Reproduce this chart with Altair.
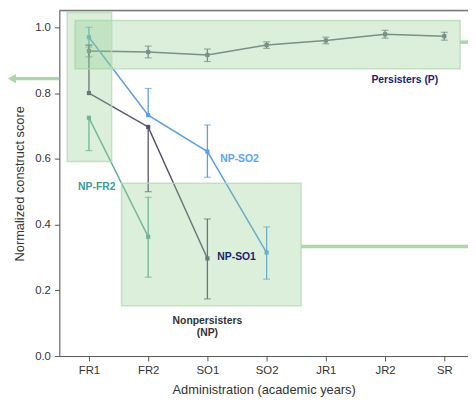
import json
import altair as alt
import pandas as pd

# ---- data ----
admin = ["FR1", "FR2", "SO1", "SO2", "JR1", "JR2", "SR"]

p_mean = [0.928, 0.925, 0.916, 0.946, 0.960, 0.979, 0.973]
p_lo = [0.910, 0.907, 0.896, 0.936, 0.950, 0.967, 0.961]
p_hi = [0.946, 0.943, 0.934, 0.956, 0.970, 0.991, 0.985]

so2_mean = [0.970, 0.733, 0.622, 0.315]
so2_lo = [0.940, 0.733, 0.544, 0.234]
so2_hi = [1.000, 0.814, 0.703, 0.393]

so1_mean = [0.800, 0.697, 0.297]
so1_lo = [0.800, 0.500, 0.174]
so1_hi = [0.946, 0.697, 0.417]

fr2_mean = [0.725, 0.363]
fr2_lo = [0.625, 0.240]
fr2_hi = [0.725, 0.483]

series_names = ["Persisters", "NP-SO2", "NP-SO1", "NP-FR2"]
line_colors = ["#6f7486", "#5b9fe2", "#55506f", "#60a898"]
point_colors = ["#4a5275", "#3f86d6", "#1f1f4a", "#3a9a86"]

# annotation boxes (category index units / score units)
box_x0 = [-0.233, -0.367, 0.55]
box_x1 = [6.267, 0.383, 3.583]
box_y0 = [0.874, 0.592, 0.153]
box_y1 = [1.021, 1.045, 0.526]

# connector lines
arrow_x0 = [-0.5, 6.267, 3.583]
arrow_x1 = [-1.30, 6.4, 6.4]
arrow_y = [0.844, 0.955, 0.333]

# text labels
lab_text = ["Persisters (P)", "NP-SO2", "NP-SO1", "NP-FR2", "Nonpersisters", "(NP)"]
lab_x = [5.333, 2.217, 2.167, 0.133, 2.0, 2.0]
lab_y = [0.841, 0.598, 0.300, 0.514, 0.108, 0.069]
lab_color = ["#1c2070", "#5ba4f0", "#1c1c6c", "#3a9c9c", "#333333", "#333333"]
lab_align = ["center", "left", "left", "center", "center", "center"]

rows = []
for name, m, lo, hi in [("Persisters", p_mean, p_lo, p_hi),
                        ("NP-SO2", so2_mean, so2_lo, so2_hi),
                        ("NP-SO1", so1_mean, so1_lo, so1_hi),
                        ("NP-FR2", fr2_mean, fr2_lo, fr2_hi)]:
    for i, (a, b, c) in enumerate(zip(m, lo, hi)):
        rows.append(dict(series=name, idx=i, score=a, lo=b, hi=c))
df = pd.DataFrame(rows)

boxes = pd.DataFrame(dict(x0=box_x0, x1=box_x1, y0=box_y0, y1=box_y1))
arrows = pd.DataFrame(dict(x0=arrow_x0, x1=arrow_x1, y=arrow_y))
heads = pd.DataFrame(dict(x=[arrow_x1[0]], y=[arrow_y[0]]))
labels = pd.DataFrame(dict(t=lab_text, x=lab_x, y=lab_y, c=lab_color, a=lab_align))
topline = pd.DataFrame(dict(x0=[-0.5], x1=[6.4], y=[1.051]))

XT = "Administration (academic years)"
YT = "Normalized construct score"
xs = alt.Scale(domain=[-0.5, 6.4], nice=False, zero=False)
ys = alt.Scale(domain=[0, 1.051], nice=False, zero=False)
label_expr = json.dumps(admin) + "[datum.value]"
xaxis = alt.Axis(values=list(range(len(admin))), labelExpr=label_expr, grid=False,
                 title=XT, domainColor="#555", tickColor="#555", tickSize=5,
                 labelFontSize=11.5, labelColor="#333", labelPadding=4,
                 titleFontSize=13, titleFontWeight="normal", titleColor="#333",
                 titlePadding=7, labelFont="Liberation Sans", titleFont="Liberation Sans")
yaxis = alt.Axis(values=[0, 0.2, 0.4, 0.6, 0.8, 1.0], format=".1f", grid=False,
                 title=YT, domainColor="#555", tickColor="#555", tickSize=5,
                 labelFontSize=11.5, labelColor="#333", labelPadding=4,
                 titleFontSize=13, titleFontWeight="normal", titleColor="#333",
                 titlePadding=8, labelFont="Liberation Sans", titleFont="Liberation Sans")


def X(f):
    return alt.X(f, type="quantitative", scale=xs, axis=xaxis, title=XT)


def Y(f):
    return alt.Y(f, type="quantitative", scale=ys, axis=yaxis, title=YT)


color_line = alt.Color("series:N", scale=alt.Scale(domain=series_names, range=line_colors), legend=None)
color_pt = alt.Color("series:N", scale=alt.Scale(domain=series_names, range=point_colors), legend=None)

base = alt.Chart(df)
lines = base.mark_line(strokeWidth=1.5).encode(x=X("idx"), y=Y("score"), color=color_line,
                                               detail="series:N")
err = base.mark_rule(strokeWidth=1.3).encode(x=X("idx"), y=Y("lo"), y2="hi", color=color_line)
cap_lo = base.transform_filter("datum.lo < datum.score").mark_tick(
    orient="horizontal", size=7, thickness=1.2).encode(x=X("idx"), y=Y("lo"), color=color_line)
cap_hi = base.transform_filter("datum.hi > datum.score").mark_tick(
    orient="horizontal", size=7, thickness=1.2).encode(x=X("idx"), y=Y("hi"), color=color_line)
pts = base.mark_point(shape="square", filled=True, size=18, opacity=1).encode(
    x=X("idx"), y=Y("score"), color=color_pt)

rects = alt.Chart(boxes).mark_rect(fill="#8fcc8f", fillOpacity=0.32, stroke="#b5dcb5",
                                   strokeWidth=1.5, strokeOpacity=0.8).encode(
    x=X("x0"), x2="x1", y=Y("y0"), y2="y1")

arrow_lines = alt.Chart(arrows).mark_rule(color="#a9d8a9", strokeWidth=3.5).encode(
    x=X("x0"), x2="x1", y=Y("y"))
arrow_heads = alt.Chart(heads).mark_point(shape="triangle-left", filled=True, size=90,
                                          color="#a9d8a9", opacity=1).encode(x=X("x"), y=Y("y"))

top = alt.Chart(topline).mark_rule(color="#7a7a7a", strokeWidth=1.5).encode(
    x=X("x0"), x2="x1", y=Y("y"))

texts = []
for al in ["left", "center"]:
    texts.append(alt.Chart(labels).transform_filter(alt.datum.a == al).mark_text(
        fontWeight="bold", fontSize=10.5, align=al, baseline="middle", font="Liberation Sans").encode(
        x=X("x"), y=Y("y"), text="t:N", color=alt.Color("c:N", scale=None)))

chart = alt.layer(lines, err, cap_lo, cap_hi, pts, rects, arrow_lines, arrow_heads, top,
                  *texts).properties(
    width=414, height=350,
    autosize=alt.AutoSizeParams(type="none"),
    padding={"left": 52, "top": 0, "right": 0, "bottom": 50},
).configure_view(strokeWidth=0).configure(background="white")

chart.save("out.html", embed_options={"renderer": "svg", "actions": False})
